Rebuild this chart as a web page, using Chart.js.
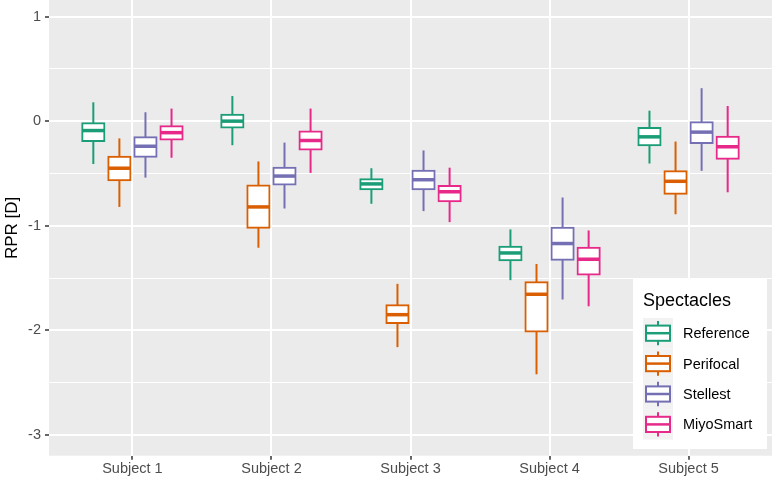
<!DOCTYPE html>
<html>
<head>
<meta charset="utf-8">
<script src="https://cdn.jsdelivr.net/npm/chart.js@4/dist/chart.umd.min.js"></script>
<style>
  html, body { margin: 0; padding: 0; background: #fff; }
  #wrap { width: 777px; height: 484px; }
</style>
</head>
<body>
<div id="wrap"><canvas id="rpr-chart"></canvas></div>
<script>
const subjects = ["Subject 1", "Subject 2", "Subject 3", "Subject 4", "Subject 5"];
const lenses = ["Reference", "Perifocal", "Stellest", "MiyoSmart"];
const lensColors = ["#1B9E77", "#D95F02", "#7570B3", "#E7298A"];

// one row per subject: [lower whisker, Q1, median, Q3, upper whisker]
const reference = [
  [-0.41, -0.19, -0.09, -0.02, 0.18],
  [-0.23, -0.06, 0.00, 0.06, 0.24],
  [-0.79, -0.65, -0.60, -0.555, -0.45],
  [-1.52, -1.33, -1.26, -1.20, -1.035],
  [-0.405, -0.23, -0.15, -0.065, 0.10],
];
const perifocal = [
  [-0.82, -0.565, -0.45, -0.34, -0.165],
  [-1.21, -1.02, -0.82, -0.615, -0.385],
  [-2.16, -1.93, -1.85, -1.76, -1.555],
  [-2.42, -2.01, -1.655, -1.54, -1.365],
  [-0.89, -0.695, -0.575, -0.48, -0.195],
];
const stellest = [
  [-0.54, -0.34, -0.24, -0.155, 0.085],
  [-0.835, -0.605, -0.525, -0.445, -0.205],
  [-0.86, -0.65, -0.56, -0.475, -0.28],
  [-1.705, -1.325, -1.17, -1.02, -0.73],
  [-0.475, -0.21, -0.105, 0.00, 0.315],
];
const miyoSmart = [
  [-0.35, -0.175, -0.11, -0.05, 0.12],
  [-0.495, -0.27, -0.185, -0.10, 0.12],
  [-0.965, -0.765, -0.675, -0.62, -0.445],
  [-1.77, -1.465, -1.32, -1.21, -1.045],
  [-0.68, -0.36, -0.245, -0.15, 0.145],
];
const lensStats = [reference, perifocal, stellest, miyoSmart];

const yTicks = [-3, -2.5, -2, -1.5, -1, -0.5, 0, 0.5, 1];

const FONT = "'Liberation Sans', Arial, sans-serif";
const PANEL = "#EBEBEB";

// panel background
const panelBg = {
  id: "panelBg",
  beforeDraw(chart) {
    const { ctx, chartArea: a } = chart;
    ctx.save();
    ctx.fillStyle = PANEL;
    ctx.fillRect(a.left, a.top, a.right - a.left, a.bottom - a.top);
    ctx.restore();
  },
};

// whiskers under the boxes, medians on top
const boxParts = {
  id: "boxParts",
  beforeDatasetsDraw(chart) {
    const { ctx } = chart;
    const y = chart.scales.y;
    ctx.save();
    ctx.lineWidth = 2;
    chart.data.datasets.forEach((ds, d) => {
      chart.getDatasetMeta(d).data.forEach((bar, i) => {
        const s = lensStats[d][i];
        ctx.strokeStyle = lensColors[d];
        ctx.beginPath();
        ctx.moveTo(bar.x, y.getPixelForValue(s[0]));
        ctx.lineTo(bar.x, y.getPixelForValue(s[4]));
        ctx.stroke();
      });
    });
    ctx.restore();
  },
  afterDatasetsDraw(chart) {
    const { ctx } = chart;
    const y = chart.scales.y;
    ctx.save();
    ctx.lineWidth = 3.5;
    chart.data.datasets.forEach((ds, d) => {
      chart.getDatasetMeta(d).data.forEach((bar, i) => {
        const s = lensStats[d][i];
        const py = y.getPixelForValue(s[2]);
        ctx.strokeStyle = lensColors[d];
        ctx.beginPath();
        ctx.moveTo(bar.x - bar.width / 2, py);
        ctx.lineTo(bar.x + bar.width / 2, py);
        ctx.stroke();
      });
    });
    ctx.restore();
  },
};

// ggplot-style legend inside the panel, bottom right
const boxLegend = {
  id: "boxLegend",
  afterDraw(chart) {
    const { ctx } = chart;
    const left = 633, top = 279, w = 134, h = 170;
    const keyX = 643, keyY = 318, keyW = 30, keyH = 30.4;
    ctx.save();
    ctx.fillStyle = "#fff";
    ctx.fillRect(left, top, w, h);
    ctx.fillStyle = "#000";
    ctx.font = "18px " + FONT;
    ctx.textBaseline = "alphabetic";
    ctx.fillText("Spectacles", 643, 305.5);
    ctx.font = "14.5px " + FONT;
    ctx.textBaseline = "middle";
    lenses.forEach((name, i) => {
      const ty = keyY + i * keyH;
      const cx = keyX + keyW / 2;
      ctx.fillStyle = "#F2F2F2";
      ctx.fillRect(keyX, ty, keyW, keyH);
      ctx.strokeStyle = lensColors[i];
      ctx.lineWidth = 2;
      ctx.beginPath();
      ctx.moveTo(cx, ty + keyH * 0.1);
      ctx.lineTo(cx, ty + keyH * 0.25);
      ctx.moveTo(cx, ty + keyH * 0.75);
      ctx.lineTo(cx, ty + keyH * 0.9);
      ctx.stroke();
      ctx.fillStyle = "#fff";
      ctx.fillRect(keyX + keyW * 0.1, ty + keyH * 0.25, keyW * 0.8, keyH * 0.5);
      ctx.strokeRect(keyX + keyW * 0.1, ty + keyH * 0.25, keyW * 0.8, keyH * 0.5);
      ctx.lineWidth = 2.5;
      ctx.beginPath();
      ctx.moveTo(keyX + keyW * 0.1, ty + keyH / 2);
      ctx.lineTo(keyX + keyW * 0.9, ty + keyH / 2);
      ctx.stroke();
      ctx.fillStyle = "#000";
      ctx.fillText(name, 683, ty + keyH / 2 + 1);
    });
    ctx.restore();
  },
};

const ctx = document.getElementById("rpr-chart").getContext("2d");
const rprChart = new Chart(ctx, {
  type: "bar",
  data: {
    datasets: lenses.map((name, d) => ({
      label: name,
      data: lensStats[d].map((s, i) => ({ x: i + 1, y: [s[1], s[3]] })),
      backgroundColor: "#fff",
      borderColor: lensColors[d],
      borderWidth: 2,
      borderSkipped: false,
      inflateAmount: 1,
      categoryPercentage: 0.75,
      barPercentage: 0.85,
    })),
  },
  plugins: [panelBg, boxParts, boxLegend],
  options: {
    responsive: true,
    maintainAspectRatio: false,
    animation: false,
    layout: { padding: { left: 0, right: 5, top: 0, bottom: 0 } },
    scales: {
      x: {
        type: "linear",
        min: 0.4,
        max: 5.6,
        offset: false,
        afterBuildTicks: (scale) => {
          scale.ticks = subjects.map((s, i) => ({ value: i + 1 }));
        },
        afterFit: (scale) => {
          scale.height = 28.3;
          scale.paddingLeft = 0;
          scale.paddingRight = 0;
        },
        border: { display: false },
        grid: {
          offset: false,
          color: "#fff",
          lineWidth: 2,
          tickColor: "#333",
          tickWidth: 1.5,
          tickLength: 4,
        },
        ticks: {
          color: "#4D4D4D",
          padding: 1,
          font: { family: FONT, size: 14.5 },
          maxRotation: 0,
          callback: (v) => subjects[v - 1],
        },
      },
      y: {
        type: "linear",
        min: -3.198,
        max: 1.158,
        afterBuildTicks: (scale) => {
          scale.ticks = yTicks.map((v) => ({ value: v }));
        },
        afterFit: (scale) => {
          scale.width = 49;
          scale.paddingTop = 0;
          scale.paddingBottom = 0;
        },
        border: { display: false },
        grid: {
          color: "#fff",
          lineWidth: (c) => (Number.isInteger(c.tick.value) ? 2 : 1),
          tickColor: (c) => (Number.isInteger(c.tick.value) ? "#333" : "rgba(0,0,0,0)"),
          tickWidth: 1.5,
          tickLength: 4,
        },
        ticks: {
          color: "#4D4D4D",
          padding: 4,
          font: { family: FONT, size: 14.5 },
          callback: (v) => (Number.isInteger(v) ? String(v) : ""),
        },
        title: {
          display: true,
          text: "RPR [D]",
          color: "#000",
          font: { family: FONT, size: 17 },
          padding: { top: 2, bottom: 0 },
        },
      },
    },
    plugins: {
      legend: { display: false },
      tooltip: { enabled: false },
    },
  },
});
</script>
</body>
</html>
